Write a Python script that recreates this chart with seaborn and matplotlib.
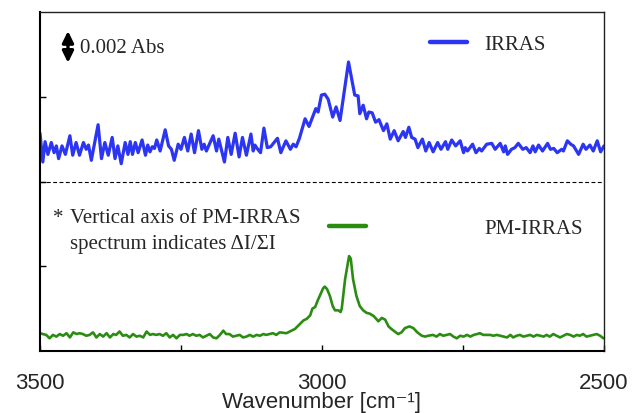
import numpy as np
import pandas as pd
import matplotlib
matplotlib.use("Agg")
import matplotlib.pyplot as plt
from matplotlib.lines import Line2D
from matplotlib.ticker import FixedLocator, NullFormatter
import seaborn as sns

# ---------------- data ----------------
irras_wn = [3500, 3495, 3491, 3486, 3480, 3475, 3471, 3467, 3461, 3455, 3447, 3442, 3436, 3430,
            3423, 3418, 3414, 3409, 3397, 3391, 3385, 3379, 3372, 3367, 3362, 3356, 3349, 3344,
            3340, 3336, 3331, 3326, 3319, 3313, 3309, 3305, 3301, 3297, 3293, 3287, 3278, 3272,
            3267, 3262, 3255, 3250, 3244, 3238, 3232, 3226, 3219, 3213, 3209, 3205, 3193, 3187,
            3183, 3173, 3167, 3161, 3154, 3147, 3141, 3134, 3126, 3122, 3119, 3115, 3109, 3103,
            3097, 3091, 3079, 3073, 3064, 3056, 3051, 3046, 3040, 3030, 3023, 3011, 3007, 3001,
            2995, 2989, 2981, 2975, 2968, 2953, 2942, 2936, 2933, 2927, 2921, 2917, 2911, 2905,
            2899, 2891, 2885, 2879, 2872, 2865, 2856, 2852, 2846, 2841, 2835, 2830, 2822, 2816,
            2810, 2803, 2795, 2789, 2781, 2777, 2770, 2763, 2755, 2749, 2746, 2742, 2733, 2727,
            2721, 2717, 2708, 2699, 2693, 2684, 2678, 2675, 2671, 2664, 2658, 2652, 2644, 2638,
            2631, 2626, 2622, 2616, 2609, 2600, 2595, 2589, 2583, 2575, 2572, 2565, 2559, 2554,
            2545, 2537, 2532, 2525, 2519, 2512, 2506, 2500]
irras_ab = [2.57, 2.23, 2.47, 2.32, 2.46, 2.34, 2.42, 2.27, 2.42, 2.32, 2.54, 2.31, 2.46, 2.31,
            2.46, 2.38, 2.43, 2.25, 2.67, 2.27, 2.46, 2.31, 2.52, 2.27, 2.42, 2.21, 2.46, 2.32,
            2.47, 2.32, 2.46, 2.34, 2.49, 2.31, 2.43, 2.35, 2.41, 2.39, 2.49, 2.36, 2.61, 2.42,
            2.38, 2.25, 2.44, 2.38, 2.52, 2.36, 2.56, 2.34, 2.60, 2.38, 2.44, 2.36, 2.54, 2.36,
            2.50, 2.23, 2.52, 2.32, 2.57, 2.29, 2.52, 2.31, 2.56, 2.36, 2.43, 2.39, 2.34, 2.63,
            2.40, 2.41, 2.51, 2.34, 2.48, 2.38, 2.44, 2.41, 2.51, 2.74, 2.65, 2.86, 2.82, 3.02,
            3.03, 2.97, 2.76, 2.88, 2.72, 3.41, 3.02, 3.01, 2.80, 2.90, 2.74, 2.82, 2.81, 2.70,
            2.73, 2.60, 2.68, 2.50, 2.60, 2.48, 2.59, 2.52, 2.64, 2.52, 2.50, 2.40, 2.50, 2.36,
            2.46, 2.35, 2.46, 2.38, 2.47, 2.38, 2.49, 2.42, 2.48, 2.34, 2.40, 2.36, 2.44, 2.34,
            2.39, 2.36, 2.44, 2.45, 2.38, 2.45, 2.35, 2.42, 2.32, 2.38, 2.40, 2.45, 2.38, 2.40,
            2.34, 2.42, 2.35, 2.43, 2.36, 2.45, 2.38, 2.39, 2.34, 2.38, 2.36, 2.48, 2.44, 2.42,
            2.32, 2.44, 2.38, 2.43, 2.36, 2.48, 2.35, 2.42]

pm_wn = [3500, 3495, 3489, 3483, 3477, 3471, 3465, 3459, 3453, 3447, 3441, 3435, 3430, 3424,
         3418, 3412, 3406, 3400, 3394, 3388, 3382, 3376, 3370, 3365, 3359, 3353, 3347, 3341,
         3335, 3329, 3323, 3317, 3311, 3305, 3300, 3294, 3288, 3282, 3276, 3270, 3264, 3258,
         3252, 3246, 3240, 3235, 3229, 3223, 3217, 3211, 3205, 3199, 3193, 3187, 3181, 3175,
         3170, 3164, 3158, 3152, 3146, 3140, 3134, 3128, 3122, 3116, 3110, 3104, 3099, 3093,
         3087, 3081,
         3075, 3063, 3048, 3039, 3033, 3027, 3021, 3017, 3012, 3008, 3004, 2998, 2995, 2991,
         2986, 2981, 2977, 2971, 2967, 2965, 2959, 2952, 2949, 2945, 2939, 2933, 2927, 2921,
         2915, 2908, 2900, 2894, 2888, 2882, 2877, 2871, 2865, 2859, 2853, 2845, 2838, 2831,
         2823, 2817, 2812,
         2803, 2797, 2791, 2785, 2779, 2773, 2767, 2761, 2755, 2749, 2743, 2737, 2731, 2725,
         2720, 2714, 2708, 2702, 2696, 2690, 2684, 2678, 2672, 2666, 2661, 2655, 2649, 2643,
         2637, 2631, 2625, 2619, 2613, 2607, 2602, 2596, 2590, 2584, 2578, 2572, 2566, 2560,
         2554, 2548, 2543, 2537, 2531, 2525, 2519, 2513, 2507, 2501]
pm_ab = [0.21, 0.20, 0.19, 0.15, 0.19, 0.17, 0.20, 0.18, 0.21, 0.16, 0.22, 0.20, 0.21, 0.20,
         0.18, 0.19, 0.22, 0.16, 0.20, 0.17, 0.21, 0.16, 0.20, 0.19, 0.23, 0.18, 0.19, 0.16,
         0.20, 0.17, 0.18, 0.16, 0.23, 0.19, 0.20, 0.19, 0.20, 0.18, 0.21, 0.16, 0.19, 0.15,
         0.19, 0.19, 0.20, 0.18, 0.20, 0.18, 0.19, 0.16, 0.18, 0.20, 0.16, 0.15, 0.19, 0.24,
         0.20, 0.20, 0.17, 0.18, 0.19, 0.16, 0.17, 0.19, 0.17, 0.19, 0.18, 0.20, 0.19, 0.20,
         0.21, 0.19,
         0.22, 0.21, 0.26, 0.32, 0.36, 0.38, 0.42, 0.50, 0.52, 0.59, 0.65, 0.74, 0.76, 0.73,
         0.65, 0.53, 0.48, 0.48, 0.46, 0.50, 0.85, 1.12, 1.09, 0.85, 0.65, 0.53, 0.48, 0.45,
         0.44, 0.41, 0.35, 0.39, 0.37, 0.29, 0.26, 0.23, 0.20, 0.22, 0.27, 0.29, 0.27, 0.22,
         0.18, 0.17, 0.18,
         0.19, 0.17, 0.20, 0.18, 0.19, 0.20, 0.17, 0.15, 0.18, 0.17, 0.19, 0.17, 0.19, 0.20,
         0.21, 0.19, 0.19, 0.19, 0.18, 0.19, 0.18, 0.17, 0.16, 0.19, 0.16, 0.18, 0.19, 0.17,
         0.18, 0.19, 0.17, 0.19, 0.18, 0.17, 0.19, 0.17, 0.20, 0.18, 0.16, 0.18, 0.20, 0.19,
         0.17, 0.19, 0.18, 0.20, 0.17, 0.18, 0.19, 0.20, 0.18, 0.15]

x_major = [3500, 3000, 2500]
x_minor = [3250, 2750]
y_ticks = [1, 2, 3]
separator_level = 2

BLUE = "#2b35f2"
GREEN = "#2a8c10"

# ---------------- style ----------------
sns.set_style("white")
plt.rcParams["font.family"] = ["Liberation Sans", "DejaVu Sans"]
SERIF = ["Liberation Serif", "DejaVu Serif"]

fig = plt.figure(figsize=(6.32, 4.14), dpi=100)
ax = fig.add_axes([40 / 632, 62 / 414, 564 / 632, 339 / 414])

df_ir = pd.DataFrame({"wn": irras_wn, "ab": irras_ab})
df_pm = pd.DataFrame({"wn": pm_wn, "ab": pm_ab})
sns.lineplot(data=df_ir, x="wn", y="ab", ax=ax, color=BLUE, lw=2.3, legend=False,
             estimator=None)
sns.lineplot(data=df_pm, x="wn", y="ab", ax=ax, color=GREEN, lw=1.9, legend=False,
             estimator=None)

ax.axhline(separator_level, color="black", lw=0.8, ls=(0, (3.5, 2.2)))

ax.set_xlim(3500, 2500)
ax.set_ylim(0, 4)
ax.xaxis.set_major_locator(FixedLocator(x_major))
ax.xaxis.set_minor_locator(FixedLocator(x_minor))
ax.set_xticklabels([str(v) for v in x_major])
ax.set_yticks(y_ticks)
ax.yaxis.set_major_formatter(NullFormatter())
ax.tick_params(axis="both", which="both", direction="in", length=4.5, width=1.0,
               color="black", bottom=True, left=True, top=False, right=False)
ax.tick_params(axis="x", which="major", labelsize=16, pad=15)
ax.set_xlabel("Wavenumber [cm\u207b\u00b9]", fontsize=16, labelpad=-1)
ax.set_ylabel("")

for side in ["left", "bottom"]:
    ax.spines[side].set_linewidth(1.5)
    ax.spines[side].set_color("black")
for side in ["top", "right"]:
    ax.spines[side].set_linewidth(1.0)
    ax.spines[side].set_color("#222222")

# scale-bar arrow and texts
ax.annotate("", xy=(0.0496, 0.944), xytext=(0.0496, 0.850), xycoords="axes fraction",
            arrowprops=dict(arrowstyle="<|-|>,head_length=0.45,head_width=0.22",
                            color="black", lw=2.4, mutation_scale=15,
                            shrinkA=0, shrinkB=0))
ax.text(0.0709, 0.883, "0.002 Abs", transform=ax.transAxes, fontsize=15,
        family=SERIF, va="baseline", ha="left")
ax.text(0.023, 0.3805, "*", transform=ax.transAxes, fontsize=15,
        family=SERIF, va="baseline", ha="left")
ax.text(0.0532, 0.3805, "Vertical axis of PM-IRRAS", transform=ax.transAxes,
        fontsize=15, family=SERIF, va="baseline", ha="left")
ax.text(0.0532, 0.3053, "spectrum indicates ΔI/ΣI", transform=ax.transAxes,
        fontsize=15, family=SERIF, va="baseline", ha="left")

# legends
leg1 = ax.legend(handles=[Line2D([], [], color=BLUE, lw=3.2)], labels=["IRRAS"],
                 loc="center left", bbox_to_anchor=(0.6915, 0.9056), frameon=False,
                 borderpad=0, borderaxespad=0, handlelength=1.78, handletextpad=0.82,
                 prop={"family": SERIF, "size": 15})
ax.add_artist(leg1)
ax.legend(handles=[Line2D([], [], color=GREEN, lw=3.2)], labels=["PM-IRRAS"],
          loc="center left", bbox_to_anchor=(0.5124, 0.3628), frameon=False,
          borderpad=0, borderaxespad=0, handlelength=1.78, handletextpad=5.67,
          prop={"family": SERIF, "size": 15})

fig.savefig("out.png", dpi=100)
